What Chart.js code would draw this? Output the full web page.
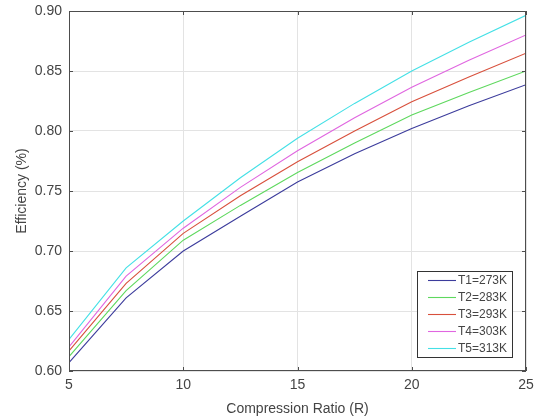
<!DOCTYPE html>
<html>
<head>
<meta charset="utf-8">
<script src="https://cdn.jsdelivr.net/npm/chart.js@4.4.0/dist/chart.umd.min.js"></script>
<style>
  html, body { margin: 0; padding: 0; background: #fff; }
  #wrap { width: 536px; height: 418px; }
</style>
</head>
<body>
<div id="wrap"><canvas id="chart" width="536" height="418"></canvas></div>
<script>
// --- data ---
const ratios = [5, 7.5, 10, 12.5, 15, 17.5, 20, 22.5, 25];
const t1 = [0.607, 0.661, 0.700, 0.729, 0.7575, 0.781, 0.802, 0.821, 0.8386];
const t2 = [0.612, 0.667, 0.709, 0.738, 0.7654, 0.790, 0.8133, 0.832, 0.850];
const t3 = [0.6167, 0.673, 0.7147, 0.746, 0.7744, 0.800, 0.8244, 0.845, 0.8648];
const t4 = [0.620, 0.679, 0.719, 0.753, 0.7835, 0.811, 0.8364, 0.859, 0.880];
const t5 = [0.6264, 0.686, 0.725, 0.761, 0.794, 0.823, 0.850, 0.874, 0.8964];
const seriesNames = ['T1=273K', 'T2=283K', 'T3=293K', 'T4=303K', 'T5=313K'];
const seriesColors = ['#3c3c9c', '#5ed85e', '#d8503c', '#e066e0', '#44e0e6'];
const xTicks = [5, 10, 15, 20, 25];
const yTicks = [0.60, 0.65, 0.70, 0.75, 0.80, 0.85, 0.90];

const FONT = '"Liberation Sans", Arial, sans-serif';
const TXT = '#444';

const datasets = [t1, t2, t3, t4, t5].map((vals, i) => ({
    label: seriesNames[i],
    data: ratios.map((r, j) => ({ x: r, y: vals[j] })),
    borderColor: seriesColors[i],
    backgroundColor: seriesColors[i],
    borderWidth: 1.1,
    pointRadius: 0,
    tension: 0,
    fill: false
}));

// box around axes + small inward ticks (matlab look)
const boxPlugin = {
    id: 'boxPlugin',
    afterDatasetsDraw(chart) {
        const { ctx, chartArea: a, scales } = chart;
        ctx.save();
        ctx.strokeStyle = '#4d4d4d';
        ctx.lineWidth = 1;
        ctx.strokeRect(a.left + 0.5, a.top + 0.5, a.right - a.left - 1, a.bottom - a.top - 1);
        ctx.beginPath();
        xTicks.forEach(v => {
            const px = Math.round(scales.x.getPixelForValue(v)) + 0.5;
            ctx.moveTo(px, a.bottom); ctx.lineTo(px, a.bottom - 4);
            ctx.moveTo(px, a.top); ctx.lineTo(px, a.top + 4);
        });
        yTicks.forEach(v => {
            const py = Math.round(scales.y.getPixelForValue(v)) + 0.5;
            ctx.moveTo(a.left, py); ctx.lineTo(a.left + 4, py);
            ctx.moveTo(a.right, py); ctx.lineTo(a.right - 4, py);
        });
        ctx.stroke();
        ctx.restore();
    }
};

// legend box in lower right corner of the plot
const legendBox = {
    id: 'legendBox',
    afterDraw(chart) {
        const { ctx, chartArea: a } = chart;
        const w = 95, rowH = 17, h = rowH * seriesNames.length + 1;
        const x0 = a.right - 14 - w, y0 = a.bottom - 14 - h;
        ctx.save();
        ctx.fillStyle = '#fff';
        ctx.fillRect(x0, y0, w, h);
        ctx.strokeStyle = '#333';
        ctx.lineWidth = 1;
        ctx.strokeRect(x0 + 0.5, y0 + 0.5, w, h);
        ctx.font = '12px ' + FONT;
        ctx.textBaseline = 'middle';
        chart.data.datasets.forEach((ds, i) => {
            const cy = Math.round(y0 + 9 + i * rowH) + 0.5;
            ctx.strokeStyle = ds.borderColor;
            ctx.lineWidth = 1.1;
            ctx.beginPath();
            ctx.moveTo(x0 + 11, cy); ctx.lineTo(x0 + 39, cy);
            ctx.stroke();
            ctx.fillStyle = TXT;
            ctx.fillText(ds.label, x0 + 41, cy);
        });
        ctx.restore();
    }
};

new Chart(document.getElementById('chart'), {
    type: 'line',
    data: { datasets },
    options: {
        responsive: false,
        animation: false,
        layout: { padding: { left: 0, top: 11, right: 10, bottom: 0 } },
        plugins: { legend: { display: false }, tooltip: { enabled: false } },
        scales: {
            x: {
                type: 'linear', min: 5, max: 25,
                afterFit: s => { s.height = 47; s.paddingLeft = 0; s.paddingRight = 0; },
                afterBuildTicks: s => { s.ticks = xTicks.map(v => ({ value: v })); },
                grid: { color: '#e3e3e3', drawTicks: false },
                border: { display: false },
                ticks: { color: TXT, font: { family: FONT, size: 14 }, padding: 6, maxRotation: 0 },
                title: { display: true, text: 'Compression Ratio (R)', color: TXT,
                         font: { family: FONT, size: 14 }, padding: { top: 0, bottom: 0 } }
            },
            y: {
                min: 0.60, max: 0.90,
                afterFit: s => { s.width = 69; s.paddingTop = 0; s.paddingBottom = 0; },
                afterBuildTicks: s => { s.ticks = yTicks.map(v => ({ value: v })); },
                grid: { color: '#e3e3e3', drawTicks: false },
                border: { display: false },
                ticks: { color: TXT, font: { family: FONT, size: 14 }, padding: 7,
                         callback: v => v.toFixed(2) },
                title: { display: true, text: 'Efficiency (%)', color: TXT,
                         font: { family: FONT, size: 14 }, padding: { top: 14, bottom: 4 } }
            }
        }
    },
    plugins: [boxPlugin, legendBox]
});
</script>
</body>
</html>
